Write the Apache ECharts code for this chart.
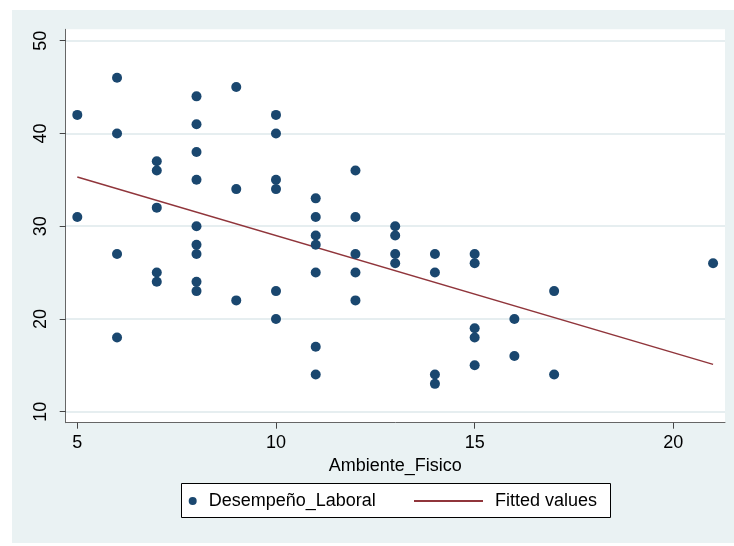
<!DOCTYPE html>
<html>
<head>
<meta charset="utf-8">
<script src="https://cdn.jsdelivr.net/npm/echarts@6/dist/echarts.min.js"></script>
<style>
  html, body { margin: 0; padding: 0; background: #ffffff; }
  #chart { width: 734px; height: 546px; }
</style>
</head>
<body>
<div id="chart"></div>
<script>
// Ambiente_Fisico (x) against Desempeño_Laboral (y)
const ambienteFisico = [
  5, 5,
  6, 6, 6, 6,
  7, 7, 7, 7, 7,
  8, 8, 8, 8, 8, 8, 8, 8, 8,
  9, 9, 9,
  10, 10, 10, 10, 10, 10,
  11, 11, 11, 11, 11, 11, 11,
  12, 12, 12, 12, 12,
  13, 13, 13, 13,
  14, 14, 14, 14,
  15, 15, 15, 15, 15,
  16, 16,
  17, 17,
  21
];
const desempenoLaboral = [
  42, 31,
  46, 40, 27, 18,
  37, 36, 32, 25, 24,
  44, 41, 38, 35, 30, 28, 27, 24, 23,
  45, 34, 22,
  42, 40, 35, 34, 23, 20,
  33, 31, 29, 28, 25, 17, 14,
  36, 31, 27, 25, 22,
  30, 29, 27, 26,
  27, 25, 14, 13,
  27, 26, 19, 18, 15,
  20, 16,
  23, 14,
  26
];

// Linear fit, end points
const fitX = [5, 21];
const fitY = [35.3, 15.1];

// Axis tick values
const xTicks = [5, 10, 15, 20];
const yTicks = [10, 20, 30, 40, 50];

const seriesNames = ['Desempeño_Laboral', 'Fitted values'];
const xTitle = 'Ambiente_Fisico';

const navy = '#1A476F';
const maroon = '#90353B';
const panelBg = '#EAF2F3';
const font = '"Liberation Sans", Arial, Helvetica, sans-serif';

const scatterData = ambienteFisico.map((x, i) => [x, desempenoLaboral[i]]);
const fitData = fitX.map((x, i) => [x, fitY[i]]);

const chart = echarts.init(document.getElementById('chart'), null, { renderer: 'canvas' });

chart.setOption({
  backgroundColor: '#ffffff',
  animation: false,
  textStyle: { fontFamily: font },
  graphic: [
    {
      type: 'rect', z: -10, silent: true,
      shape: { x: 12, y: 10, width: 722, height: 533 },
      style: { fill: panelBg }
    },
    {
      type: 'rect', z: 5, silent: true,
      shape: { x: 181.5, y: 483.5, width: 429, height: 34 },
      style: { fill: '#ffffff', stroke: '#000000', lineWidth: 1 }
    }
  ],
  grid: {
    left: 65.7, top: 29.3, right: 9, bottom: 123.3,
    show: true, backgroundColor: '#ffffff', borderWidth: 0
  },
  xAxis: {
    type: 'value',
    min: 4.708, max: 21.30,
    name: xTitle,
    nameLocation: 'middle',
    nameGap: 30,
    nameTextStyle: { fontSize: 18, color: '#000', fontFamily: font },
    axisLine: { show: true, onZero: false, lineStyle: { color: '#666', width: 1 } },
    axisTick: { show: true, length: 6, customValues: xTicks, lineStyle: { color: '#444' } },
    axisLabel: { customValues: xTicks, fontSize: 18, color: '#000', margin: 11, fontFamily: font },
    splitLine: { show: false }
  },
  yAxis: {
    type: 'value',
    min: 8.81, max: 51.23,
    axisLine: { show: true, onZero: false, lineStyle: { color: '#666', width: 1 } },
    axisTick: { show: true, length: 6, customValues: yTicks, lineStyle: { color: '#444' } },
    axisLabel: { customValues: yTicks, fontSize: 18, color: '#000', margin: 16, rotate: 90, fontFamily: font },
    splitLine: { show: true, lineStyle: { color: '#E6EEF0', width: 2 } }
  },
  legend: [
    {
      left: 183.7, top: 487, orient: 'horizontal', z: 6,
      itemWidth: 8, itemHeight: 8,
      data: [{ name: seriesNames[0], icon: 'circle' }],
      textStyle: { fontSize: 18, color: '#000', fontFamily: font, padding: [0, 0, 0, 7] },
      selectedMode: false
    },
    {
      left: 409, top: 487, orient: 'horizontal', z: 6,
      itemWidth: 69, itemHeight: 2,
      data: [{ name: seriesNames[1], icon: 'rect' }],
      itemStyle: { color: maroon },
      textStyle: { fontSize: 18, color: '#000', fontFamily: font, padding: [0, 0, 0, 7] },
      selectedMode: false
    }
  ],
  series: [
    {
      name: seriesNames[0],
      type: 'scatter',
      data: scatterData,
      symbol: 'circle',
      symbolSize: 10,
      itemStyle: { color: navy, opacity: 1 },
      z: 3
    },
    {
      name: seriesNames[1],
      type: 'line',
      data: fitData,
      symbol: 'none',
      lineStyle: { color: maroon, width: 1.5 },
      itemStyle: { color: maroon },
      z: 2
    }
  ]
});
</script>
</body>
</html>
